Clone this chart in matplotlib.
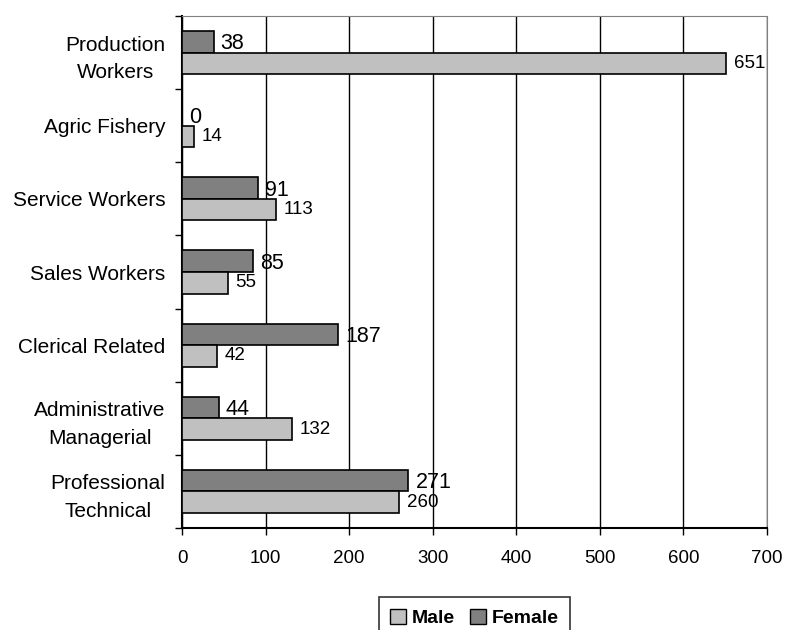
import matplotlib
matplotlib.use("Agg")
import matplotlib.pyplot as plt
from matplotlib.patches import Patch
import numpy as np

categories = ["Production\nWorkers", "Agric Fishery", "Service Workers", "Sales Workers",
              "Clerical Related", "Administrative\nManagerial", "Professional\nTechnical"]
male = [651, 14, 113, 55, 42, 132, 260]
female = [38, 0, 91, 85, 187, 44, 271]
xticks = [0, 100, 200, 300, 400, 500, 600, 700]

plt.rcParams['font.family'] = ['Liberation Sans', 'DejaVu Sans']

fig = plt.figure(figsize=(7.86, 6.30), dpi=100)
ax = fig.add_axes([182/786, 1-528/630, (767-182)/786, (528-16)/630])

y = np.arange(len(categories))
h = 0.294
off = 0.147
male_c = "#C0C0C0"
female_c = "#808080"

ax.barh(y - off, female, height=h, color=female_c, edgecolor="black", linewidth=1.2, zorder=3)
ax.barh(y + off, male, height=h, color=male_c, edgecolor="black", linewidth=1.2, zorder=3)

for yi, v in zip(y, female):
    ax.annotate(str(v), (v, yi - off), xytext=(5, -1.5), textcoords="offset points",
                va="center", ha="left", fontsize=15.5, zorder=4)
for yi, v in zip(y, male):
    ax.annotate(str(v), (v, yi + off), xytext=(5.5, 0), textcoords="offset points",
                va="center", ha="left", fontsize=13.5, zorder=4)

ax.set_xlim(0, 700)
ax.set_ylim(len(categories) - 0.5, -0.5)
ax.set_xticks(xticks)
ax.set_xticklabels([str(t) for t in xticks], fontsize=13.5)
ax.set_yticks(y)
ax.set_yticklabels(categories, fontsize=15)
for lab in ax.get_yticklabels():
    lab.set_multialignment("center")
    lab.set_linespacing(1.55)
ax.set_yticks(np.arange(len(categories) + 1) - 0.5, minor=True)
ax.tick_params(axis="y", which="major", length=0, pad=12)
ax.tick_params(axis="y", which="minor", length=5, width=1, direction="out", color="black")
ax.tick_params(axis="x", which="major", length=5, width=1, direction="out", pad=11)

ax.grid(axis="x", color="black", linewidth=1, zorder=0)
ax.set_axisbelow(True)
ax.spines["left"].set_color("black")
ax.spines["left"].set_linewidth(1.5)
ax.spines["bottom"].set_color("black")
ax.spines["bottom"].set_linewidth(1.5)
ax.spines["top"].set_color("#808080")
ax.spines["right"].set_color("#808080")

handles = [Patch(facecolor=male_c, edgecolor="black", label="Male"),
           Patch(facecolor=female_c, edgecolor="black", label="Female")]
leg = fig.legend(handles=handles, loc="upper center",
                 bbox_to_anchor=(474.5/786, 1-597/630), ncol=2, frameon=True,
                 fancybox=False, edgecolor="black", handlelength=0.8, handleheight=0.8,
                 handletextpad=0.3, columnspacing=0.8, borderpad=0.6, borderaxespad=0,
                 prop={"weight": "bold", "size": 14})
leg.get_frame().set_linewidth(1.2)

fig.savefig("out.png", dpi=100)
